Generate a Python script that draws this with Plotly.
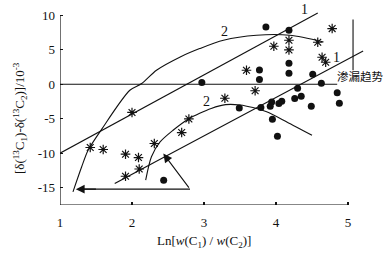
import plotly.graph_objects as go

# ---- data ----
circle_x = [3.86, 4.18, 4.18, 4.18, 3.77, 3.77, 2.97, 4.51, 4.63, 4.30, 4.35, 4.26,
            4.85, 4.88, 4.49, 4.08, 4.04, 3.94, 3.92, 3.79, 3.49, 3.95, 4.02, 2.44]
circle_y = [8.3, 7.83, 3.04, 1.59, 2.07, 0.70, 0.25, 1.45, 0.14, -0.58, -1.74, -2.07,
            -1.23, -2.75, -3.19, -2.46, -2.80, -2.57, -3.19, -3.38, -3.43, -5.07, -7.54, -13.9]

star_x = [4.78, 4.58, 4.18, 4.18, 3.97, 3.59, 4.64, 4.69, 3.71, 3.29,
          2.00, 2.79, 2.69, 2.31, 1.42, 1.60, 1.91, 2.09, 2.10, 1.91]
star_y = [8.07, 6.09, 6.38, 4.97, 5.51, 2.03, 3.91, 3.19, -0.94, -2.03,
          -4.09, -5.03, -7.0, -8.59, -9.17, -9.46, -10.14, -10.62, -12.28, -13.33]

line1_upper_x = [1.0, 4.58]
line1_upper_y = [-10.0, 10.33]
line1_lower_x = [1.76, 5.21]
line1_lower_y = [-14.4, 4.83]

curve2_upper_x = [1.18, 1.30, 1.39, 1.58, 1.97, 2.135, 2.34, 2.67, 2.94, 3.27, 3.73, 4.19, 4.66]
curve2_upper_y = [-15.6, -12.0, -9.57, -6.5, -0.87, 0.10, 2.03, 3.96, 5.17, 6.38, 7.10, 7.10, 6.13]

curve2_lower_x = [2.19, 2.27, 2.39, 2.57, 2.79, 2.94, 3.10, 3.30, 3.50, 3.68, 3.87, 4.15, 4.50]
curve2_lower_y = [-13.9, -10.5, -8.36, -6.67, -5.0, -4.2, -3.5, -2.95, -3.0, -3.38, -4.0, -5.46, -7.39]

zero_line_x = [1.0, 4.85]
zero_line_y = [0.0, 0.0]
trend_bar_x = [5.07, 5.07]
trend_bar_y = [9.37, 2.03]

triangle_top = (2.435, -10.04)
triangle_right = (2.806, -15.2)
arrow_left_tip = (1.22, -15.2)

x_tickvals = [1, 2, 3, 4, 5]
x_ticktext = ["1", "2", "3", "4", "5"]
y_tickvals = [10, 5, 0, -5, -10, -15]
y_ticktext = ["10", "5", "0", "-5", "-10", "-15"]

x_title = "Ln[<i>w</i>(C<sub>1</sub>) / <i>w</i>(C<sub>2</sub>)]"
y_title = "[δ(<sup>13</sup>C<sub>1</sub>)-δ(<sup>13</sup>C<sub>2</sub>)]/10<sup>-3</sup>"
trend_label = "渗漏趋势"

SERIF = "Liberation Serif, Times New Roman, serif"
BLACK = "#111111"

fig = go.Figure()

def add_line(xs, ys, shape="linear"):
    fig.add_trace(go.Scatter(x=xs, y=ys, mode="lines",
                             line=dict(color=BLACK, width=1.1, shape=shape,
                                       smoothing=0.8 if shape == "spline" else None),
                             hoverinfo="skip", showlegend=False, cliponaxis=False))

add_line(line1_upper_x, line1_upper_y)
add_line(line1_lower_x, line1_lower_y)
add_line(curve2_upper_x, curve2_upper_y, "spline")
add_line(curve2_lower_x, curve2_lower_y, "spline")
add_line(zero_line_x, zero_line_y)
add_line(trend_bar_x, trend_bar_y)
add_line([triangle_right[0], arrow_left_tip[0] + 0.08], [triangle_right[1], arrow_left_tip[1]])

fig.add_trace(go.Scatter(x=circle_x, y=circle_y, mode="markers",
                         marker=dict(symbol="circle", size=7, color=BLACK),
                         showlegend=False, cliponaxis=False))
fig.add_trace(go.Scatter(x=star_x, y=star_y, mode="markers",
                         marker=dict(symbol="asterisk-open", size=8, color=BLACK,
                                     line=dict(color=BLACK, width=1.2)),
                         showlegend=False, cliponaxis=False))

# axis lines drawn as shapes (they stop at x=5 / y=10)
fig.add_shape(type="line", x0=1, x1=5, y0=-17.5, y1=-17.5, xref="x", yref="y",
              line=dict(color=BLACK, width=1.2))
fig.add_shape(type="line", x0=1, x1=1, y0=-17.5, y1=10, xref="x", yref="y",
              line=dict(color=BLACK, width=1.2))

anns = []
# arrows
anns.append(dict(x=triangle_top[0], y=triangle_top[1], ax=triangle_right[0], ay=triangle_right[1],
                 xref="x", yref="y", axref="x", ayref="y", text="", showarrow=True,
                 arrowhead=2, arrowsize=1.6, arrowwidth=1.1, arrowcolor=BLACK))
anns.append(dict(x=arrow_left_tip[0], y=arrow_left_tip[1], ax=arrow_left_tip[0] + 0.3,
                 ay=arrow_left_tip[1], xref="x", yref="y", axref="x", ayref="y", text="",
                 showarrow=True, arrowhead=2, arrowsize=1.6, arrowwidth=1.1, arrowcolor=BLACK))
# line labels
for lx, ly, t in [(4.39, 10.9, "1"), (4.84, 3.9, "1"), (3.29, 7.6, "2"), (3.03, -2.5, "2")]:
    anns.append(dict(x=lx, y=ly, xref="x", yref="y", text=t, showarrow=False,
                     font=dict(family=SERIF, size=14, color=BLACK)))
anns.append(dict(x=5.17, y=1.25, xref="x", yref="y", text=trend_label, showarrow=False,
                 font=dict(family="Noto Sans CJK SC", size=11.5, color=BLACK)))
# axis titles
anns.append(dict(x=3, y=0, xref="x", yref="paper", yshift=-36, text=x_title,
                 showarrow=False, yanchor="middle",
                 font=dict(family=SERIF, size=13, color=BLACK)))
anns.append(dict(x=0, y=-4.9, xref="paper", yref="y", xshift=-40, text=y_title,
                 showarrow=False, textangle=-90, xanchor="center",
                 font=dict(family=SERIF, size=13, color=BLACK)))

fig.update_layout(
    width=387, height=260,
    margin=dict(l=60, r=14, t=4, b=55),
    paper_bgcolor="white", plot_bgcolor="white",
    annotations=anns,
    hovermode=False,
    xaxis=dict(range=[1, 1 + 313 / 72], showgrid=False, zeroline=False, showline=False,
               tickvals=x_tickvals, ticktext=x_ticktext, ticks="inside", ticklen=3,
               tickcolor=BLACK, tickwidth=1.2, ticklabelstandoff=8,
               tickfont=dict(family=SERIF, size=13, color=BLACK)),
    yaxis=dict(range=[-17.5, -17.5 + 201 / 6.9], showgrid=False, zeroline=False, showline=False,
               tickvals=y_tickvals, ticktext=y_ticktext, ticks="inside", ticklen=3,
               tickcolor=BLACK, tickwidth=1.2, ticklabelstandoff=4,
               tickfont=dict(family=SERIF, size=13, color=BLACK)),
)

fig.write_html("out.html", config={"displayModeBar": False, "staticPlot": True},
               post_script="document.body.style.margin='0';document.body.style.padding='0';")
